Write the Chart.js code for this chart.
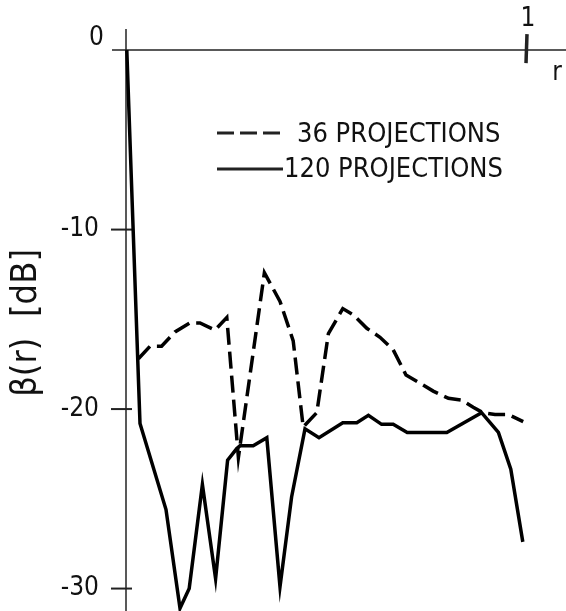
<!DOCTYPE html>
<html>
<head>
<meta charset="utf-8">
<script src="https://cdn.jsdelivr.net/npm/chart.js@4.4.0/dist/chart.umd.min.js"></script>
<style>
  html, body { margin: 0; padding: 0; background: #fff; }
  #wrap { width: 566px; height: 611px; }
</style>
</head>
<body>
<div id="wrap"><canvas id="myChart" width="566" height="611"></canvas></div>
<script>
// 36 projections (dashed)
var r36  = [0.031,0.06,0.089,0.1225,0.16,0.185,0.2225,0.252,0.281,0.346,0.385,0.418,0.443,0.477,0.506,0.542,0.568,0.602,0.635,0.668,0.70,0.731,0.768,0.806,0.839,0.868,0.892,0.9225,0.956,0.993];
var db36 = [-17.2,-16.5,-16.5,-15.7,-15.2,-15.2,-15.6,-14.9,-22.7,-12.4,-14.0,-16.2,-21.0,-20.2,-15.8,-14.4,-14.75,-15.5,-16.0,-16.7,-18.1,-18.5,-19.0,-19.4,-19.5,-19.9,-20.2,-20.3,-20.3,-20.7];
// 120 projections (solid)
var r120  = [0.002,0.035,0.1,0.135,0.158,0.191,0.224,0.254,0.277,0.285,0.318,0.352,0.385,0.414,0.4475,0.4825,0.542,0.577,0.606,0.639,0.668,0.703,0.802,0.889,0.931,0.962,0.992];
var db120 = [0,-20.8,-25.6,-31.1,-30.0,-24.2,-29.45,-22.85,-22.2,-22.05,-22.05,-21.6,-29.9,-24.9,-21.1,-21.6,-20.76,-20.76,-20.35,-20.85,-20.85,-21.3,-21.3,-20.2,-21.3,-23.35,-27.4];
var yTicks = [0,-10,-20,-30];
var yTickLabels = ['0','-10','-20','-30'];
var seriesNames = ['36 PROJECTIONS','120 PROJECTIONS'];

function pts(xs, ys){
  var out = [];
  for (var i = 0; i < xs.length; i++) out.push({x: xs[i], y: ys[i]});
  return out;
}

var font = '"DejaVu Sans Condensed", "DejaVu Sans", sans-serif';

var axesPlugin = {
  id: 'axesPlugin',
  beforeDatasetsDraw: function(chart){
    var ctx = chart.ctx, xs = chart.scales.x, ys = chart.scales.y;
    var x0 = xs.getPixelForValue(0), x1 = xs.getPixelForValue(1);
    var y0 = ys.getPixelForValue(0);
    ctx.save();
    ctx.strokeStyle = '#222';
    ctx.lineWidth = 1.5;
    // horizontal axis
    ctx.beginPath();
    ctx.moveTo(x0 - 14, y0); ctx.lineTo(chart.width, y0);
    ctx.stroke();
    // vertical axis
    ctx.beginPath();
    ctx.moveTo(x0, y0 - 21); ctx.lineTo(x0, chart.height);
    ctx.stroke();
    // y ticks
    ctx.lineWidth = 2;
    for (var i = 1; i < yTicks.length; i++){
      var ty = ys.getPixelForValue(yTicks[i]);
      ctx.beginPath(); ctx.moveTo(x0 - 15, ty); ctx.lineTo(x0 + 6, ty); ctx.stroke();
    }
    // x tick at 1
    ctx.lineWidth = 3.5;
    ctx.beginPath(); ctx.moveTo(x1 + 1, y0 - 16); ctx.lineTo(x1, y0 + 13); ctx.stroke();
    // labels
    ctx.fillStyle = '#111';
    ctx.font = '26px ' + font;
    ctx.textBaseline = 'middle';
    ctx.textAlign = 'right';
    for (var j = 0; j < yTicks.length; j++){
      var ly = ys.getPixelForValue(yTicks[j]);
      if (j === 0) ctx.fillText(yTickLabels[j], x0 - 22, ly - 12);
      else ctx.fillText(yTickLabels[j], x0 - 27, ly);
    }
    ctx.textAlign = 'center';
    ctx.fillText('1', x1 + 2, y0 - 31);
    ctx.fillText('r', x1 + 31, y0 + 23);
    // y title
    ctx.save();
    ctx.translate(27, ys.getPixelForValue(-15.2));
    ctx.rotate(-Math.PI / 2);
    ctx.font = '36px ' + font;
    ctx.fillText('\u03B2(r)  [dB]', 0, 0);
    ctx.restore();
    // legend
    ctx.font = '27px ' + font;
    ctx.textAlign = 'left';
    ctx.lineWidth = 3;
    ctx.setLineDash([17, 6]);
    ctx.beginPath(); ctx.moveTo(217, 133); ctx.lineTo(281, 133); ctx.stroke();
    ctx.setLineDash([]);
    ctx.beginPath(); ctx.moveTo(217, 169); ctx.lineTo(283, 169); ctx.stroke();
    ctx.fillText(seriesNames[0], 297, 135);
    ctx.fillText(seriesNames[1], 284, 170);
    ctx.restore();
  }
};

window.onload = function(){
  var ctx = document.getElementById('myChart');
  new Chart(ctx, {
    type: 'line',
    data: {
      datasets: [{
        label: seriesNames[0],
        data: pts(r36, db36),
        borderColor: '#000',
        borderWidth: 3.5,
        borderDash: [17, 7],
        pointRadius: 0,
        tension: 0,
        fill: false
      }, {
        label: seriesNames[1],
        data: pts(r120, db120),
        borderColor: '#000',
        borderWidth: 3.5,
        pointRadius: 0,
        tension: 0,
        fill: false
      }]
    },
    options: {
      responsive: false,
      animation: false,
      layout: { padding: 0 },
      plugins: { legend: { display: false }, tooltip: { enabled: false } },
      scales: {
        x: { type: 'linear', display: false, min: -0.315, max: 1.1 },
        y: { type: 'linear', display: false, min: -31.25, max: 2.79 }
      }
    },
    plugins: [axesPlugin]
  });
};
</script>
</body>
</html>
